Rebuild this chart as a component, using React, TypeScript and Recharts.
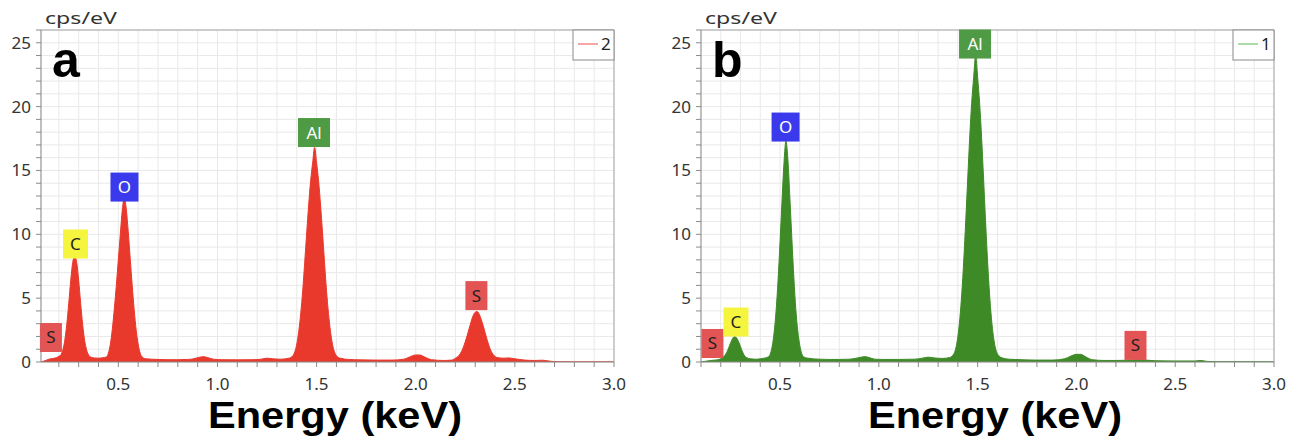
import {
  AreaChart,
  Area,
  XAxis,
  YAxis,
  CartesianGrid,
  ReferenceDot,
  ReferenceLine,
} from 'recharts';

// EDS spectra, [energy keV, cps/eV]
const sampleA: [number, number][] = [
  [0.11, 0], [0.13, 0.1], [0.15, 0.22], [0.17, 0.28], [0.19, 0.35], [0.2, 0.45], [0.21, 0.55],
  [0.22, 0.95], [0.23, 1.7], [0.24, 2.95], [0.25, 4.6], [0.26, 6.4], [0.27, 7.8], [0.28, 8.3],
  [0.29, 7.8], [0.3, 6.4], [0.31, 4.6], [0.32, 2.95], [0.33, 1.7], [0.34, 0.95], [0.35, 0.55],
  [0.36, 0.4], [0.38, 0.32], [0.4, 0.3], [0.42, 0.33], [0.44, 0.4], [0.45, 0.7], [0.46, 1.4],
  [0.47, 2.6], [0.48, 4.2], [0.49, 6.0], [0.5, 8.0], [0.51, 10.0], [0.52, 11.9], [0.53, 12.9],
  [0.54, 12.0], [0.55, 10.2], [0.56, 8.1], [0.57, 6.0], [0.58, 4.1], [0.59, 2.5], [0.6, 1.4],
  [0.61, 0.7], [0.62, 0.4], [0.64, 0.25], [0.7, 0.2], [0.75, 0.18], [0.8, 0.18], [0.85, 0.2],
  [0.88, 0.25], [0.91, 0.38], [0.93, 0.42], [0.95, 0.35], [0.98, 0.22], [1.02, 0.18], [1.1, 0.17],
  [1.18, 0.18], [1.22, 0.22], [1.25, 0.3], [1.28, 0.25], [1.32, 0.22], [1.36, 0.3], [1.37, 0.35],
  [1.39, 0.8], [1.4, 1.4], [1.41, 2.4], [1.42, 3.8], [1.43, 5.6], [1.44, 7.8], [1.45, 10.1],
  [1.46, 12.3], [1.47, 14.2], [1.48, 15.6], [1.49, 16.8], [1.5, 15.6], [1.51, 14.2], [1.52, 12.3],
  [1.53, 10.1], [1.54, 7.8], [1.55, 5.6], [1.56, 3.8], [1.57, 2.4], [1.58, 1.4], [1.59, 0.8],
  [1.61, 0.35], [1.62, 0.3], [1.66, 0.2], [1.72, 0.17], [1.8, 0.15], [1.88, 0.15], [1.94, 0.22],
  [1.97, 0.4], [2.0, 0.55], [2.02, 0.55], [2.05, 0.35], [2.08, 0.18], [2.14, 0.12], [2.18, 0.15],
  [2.2, 0.3], [2.22, 0.55], [2.23, 0.8], [2.24, 1.15], [2.25, 1.6], [2.26, 2.1], [2.27, 2.65],
  [2.28, 3.2], [2.29, 3.65], [2.3, 3.9], [2.31, 3.95], [2.32, 3.75], [2.33, 3.35], [2.34, 2.85],
  [2.35, 2.3], [2.36, 1.75], [2.37, 1.25], [2.38, 0.85], [2.39, 0.6], [2.41, 0.35], [2.44, 0.3],
  [2.47, 0.32], [2.5, 0.25], [2.55, 0.15], [2.6, 0.12], [2.64, 0.14], [2.68, 0.06], [2.72, 0.02],
  [2.8, 0.01], [3.0, 0.01],
];

const sampleB: [number, number][] = [
  [0.1, 0], [0.12, 0.05], [0.15, 0.12], [0.17, 0.15], [0.19, 0.2], [0.2, 0.25], [0.21, 0.35],
  [0.22, 0.5], [0.23, 0.75], [0.24, 1.1], [0.25, 1.5], [0.26, 1.85], [0.27, 2.0], [0.28, 1.9],
  [0.29, 1.6], [0.3, 1.2], [0.31, 0.8], [0.32, 0.5], [0.33, 0.35], [0.35, 0.25], [0.38, 0.22],
  [0.4, 0.25], [0.42, 0.3], [0.44, 0.4], [0.45, 0.6], [0.46, 1.2], [0.47, 2.3], [0.48, 4.0],
  [0.49, 6.4], [0.5, 9.4], [0.51, 12.6], [0.52, 15.6], [0.53, 17.3], [0.54, 15.8], [0.55, 12.8],
  [0.56, 9.6], [0.57, 6.6], [0.58, 4.1], [0.59, 2.4], [0.6, 1.3], [0.61, 0.65], [0.62, 0.4],
  [0.64, 0.3], [0.7, 0.22], [0.75, 0.2], [0.8, 0.2], [0.85, 0.22], [0.88, 0.28], [0.91, 0.38],
  [0.93, 0.42], [0.95, 0.35], [0.98, 0.22], [1.02, 0.2], [1.1, 0.2], [1.18, 0.22], [1.22, 0.3],
  [1.25, 0.38], [1.28, 0.32], [1.32, 0.28], [1.36, 0.35], [1.37, 0.45], [1.39, 1.1], [1.4, 2.0],
  [1.41, 3.4], [1.42, 5.4], [1.43, 8.0], [1.44, 11.1], [1.45, 14.4], [1.46, 17.6], [1.47, 20.3],
  [1.48, 22.3], [1.49, 24.0], [1.5, 22.3], [1.51, 20.3], [1.52, 17.6], [1.53, 14.4], [1.54, 11.1],
  [1.55, 8.0], [1.56, 5.4], [1.57, 3.4], [1.58, 2.0], [1.59, 1.1], [1.61, 0.45], [1.62, 0.35],
  [1.66, 0.22], [1.72, 0.18], [1.8, 0.15], [1.88, 0.15], [1.94, 0.25], [1.97, 0.45], [2.0, 0.6],
  [2.02, 0.6], [2.05, 0.38], [2.08, 0.18], [2.14, 0.12], [2.2, 0.12], [2.27, 0.15], [2.31, 0.18],
  [2.35, 0.15], [2.4, 0.1], [2.5, 0.08], [2.6, 0.08], [2.63, 0.12], [2.66, 0.05], [2.72, 0.02],
  [3.0, 0.01],
];

// element tags: where the label box sits (keV, cps/eV)
type Peak = { el: string; energy: number; cps: number };
const peaksA: Peak[] = [
  { el: 'S', energy: 0.16, cps: 1.92 },
  { el: 'C', energy: 0.284, cps: 9.24 },
  { el: 'O', energy: 0.531, cps: 13.7 },
  { el: 'Al', energy: 1.487, cps: 17.97 },
  { el: 'S', energy: 2.306, cps: 5.2 },
];
const peaksB: Peak[] = [
  { el: 'S', energy: 0.158, cps: 1.45 },
  { el: 'C', energy: 0.277, cps: 3.13 },
  { el: 'O', energy: 0.528, cps: 18.4 },
  { el: 'Al', energy: 1.487, cps: 24.9 },
  { el: 'S', energy: 2.299, cps: 1.3 },
];

const yLabels = [0, 5, 10, 15, 20, 25];
const xLabels = ['0.5', '1.0', '1.5', '2.0', '2.5', '3.0'];

const tagStyle: Record<string, { bg: string; fg: string; w: number }> = {
  S: { bg: '#e35454', fg: '#222', w: 22 },
  C: { bg: '#f5f53f', fg: '#222', w: 25 },
  O: { bg: '#3a3aec', fg: '#fff', w: 28 },
  Al: { bg: '#4f9b45', fg: '#fff', w: 32 },
};

const FONT = '"Noto Sans", "Open Sans", sans-serif';
const BOLD_FONT = '"Liberation Sans", Arial, sans-serif';

const yTicks = Array.from({ length: 27 }, (_, i) => i);
const makeXTicks = (min: number) => {
  const out: number[] = [];
  for (let i = Math.ceil(min * 10 - 1e-6); i <= 30; i++) out.push(i / 10);
  return out;
};

const YTick = (props: any) => {
  const { x, y, payload } = props;
  const v = payload.value;
  const major = yLabels.includes(v);
  return (
    <g>
      <line x1={x - 5} x2={x} y1={y} y2={y} stroke="#8a8a8a" />
      {major && (
        <text x={x - 10} y={y + 6} textAnchor="end" fontSize={17} fill="#333" fontFamily={FONT}>
          {v}
        </text>
      )}
    </g>
  );
};

const XTick = (props: any) => {
  const { x, y, payload } = props;
  const label = payload.value.toFixed(1);
  return (
    <g>
      <line x1={x} x2={x} y1={y} y2={y + 5} stroke="#8a8a8a" />
      {xLabels.includes(label) && (
        <text x={x} y={y + 28} textAnchor="middle" fontSize={17} fill="#333" fontFamily={FONT}>
          {label}
        </text>
      )}
    </g>
  );
};

const PeakTag = ({ cx, cy, el }: { cx?: number; cy?: number; el: string }) => {
  if (cx == null || cy == null) return null;
  const s = tagStyle[el];
  return (
    <g>
      <rect x={cx - s.w / 2} y={cy - 14.5} width={s.w} height={29} fill={s.bg} />
      <text x={cx} y={cy + 6} textAnchor="middle" fontSize={17} fill={s.fg} fontFamily={FONT}>
        {el}
      </text>
    </g>
  );
};

const Panel = ({
  left,
  letter,
  data,
  peaks,
  xMin,
  fill,
  legendName,
  legendColor,
}: {
  left: number;
  letter: string;
  data: [number, number][];
  peaks: Peak[];
  xMin: number;
  fill: string;
  legendName: string;
  legendColor: string;
}) => {
  const rows = data.map(([energy, cps]) => ({ energy, cps }));
  return (
    <div style={{ position: 'absolute', left, top: 0, width: 640, height: 436 }}>
      <AreaChart width={640} height={436} data={rows} margin={{ top: 30, right: 26, bottom: 44, left: 0 }}>
        <CartesianGrid stroke="#e9e9e9" />
        <XAxis
          type="number"
          dataKey="energy"
          domain={[xMin, 3]}
          ticks={makeXTicks(xMin)}
          interval={0}
          tick={<XTick />}
          tickSize={0}
          tickMargin={0}
          tickLine={false}
          axisLine={{ stroke: '#8a8a8a' }}
          height={30}
          allowDataOverflow
        />
        <YAxis
          type="number"
          domain={[0, 26]}
          ticks={yTicks}
          interval={0}
          tick={<YTick />}
          tickSize={0}
          tickMargin={0}
          tickLine={false}
          axisLine={{ stroke: '#8a8a8a' }}
          width={41}
          allowDataOverflow
        />
        <ReferenceLine y={26} stroke="#a5a5a5" />
        <ReferenceLine x={3} stroke="#a5a5a5" />
        <Area
          type="monotone"
          dataKey="cps"
          stroke={fill}
          fill={fill}
          fillOpacity={1}
          isAnimationActive={false}
        />
        {peaks.map((p, i) => (
          <ReferenceDot
            key={`${p.el}-${i}`}
            x={p.energy}
            y={p.cps}
            shape={(sp: any) => <PeakTag cx={sp.cx} cy={sp.cy} el={p.el} />}
          />
        ))}
      </AreaChart>
      <svg width={640} height={436} style={{ position: 'absolute', left: 0, top: 0, pointerEvents: 'none' }}>
        <text x={45} y={24} fontSize={17} fill="#333" fontFamily={FONT} textLength={72} lengthAdjust="spacingAndGlyphs">
          cps/eV
        </text>
        <text x={52} y={77} fontSize={50} fontWeight="bold" fill="#000" fontFamily={BOLD_FONT}>
          {letter}
        </text>
        <text
          x={208}
          y={428}
          fontSize={37}
          fontWeight="bold"
          fill="#000"
          fontFamily={BOLD_FONT}
          textLength={254}
          lengthAdjust="spacingAndGlyphs"
        >
          Energy (keV)
        </text>
        <rect x={573} y={30} width={41} height={30} fill="#fff" stroke="#8a8a8a" />
        <line x1={578} x2={598} y1={44} y2={44} stroke={legendColor} strokeWidth={1.5} />
        <text x={601} y={50} fontSize={17} fill="#222" fontFamily={FONT}>
          {legendName}
        </text>
      </svg>
    </div>
  );
};

export default function App() {
  return (
    <div style={{ position: 'absolute', left: 0, top: 0, width: 1293, height: 436, background: '#fff' }}>
      <Panel
        left={0}
        letter="a"
        data={sampleA}
        peaks={peaksA}
        xMin={0.11}
        fill="#e8392c"
        legendName="2"
        legendColor="#f08a8a"
      />
      <Panel
        left={660}
        letter="b"
        data={sampleB}
        peaks={peaksB}
        xMin={0.1}
        fill="#3d8a27"
        legendName="1"
        legendColor="#93cf8f"
      />
    </div>
  );
}
